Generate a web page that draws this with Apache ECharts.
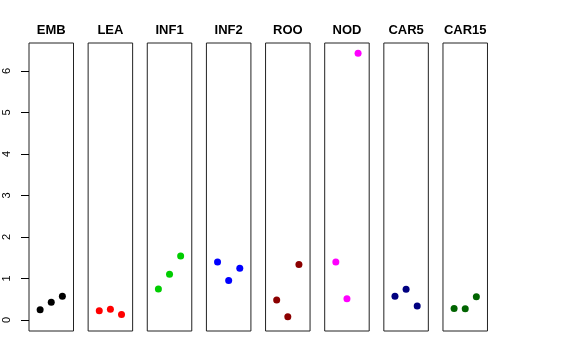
<!DOCTYPE html>
<html><head><meta charset="utf-8">
<script src="https://cdn.jsdelivr.net/npm/echarts@6/dist/echarts.min.js"></script>
<style>html,body{margin:0;padding:0;background:#fff}#c{width:576px;height:360px}</style>
</head><body><div id="c"></div>
<script>
var categories = ['EMB','LEA','INF1','INF2','ROO','NOD','CAR5','CAR15'];
var colors = ['#000000','#FF0000','#00CD00','#0000FF','#8B0000','#FF00FF','#000080','#006400'];
var EMB = [0.25, 0.43, 0.57];
var LEA = [0.22, 0.26, 0.13];
var INF1 = [0.75, 1.10, 1.54];
var INF2 = [1.40, 0.95, 1.25];
var ROO = [0.48, 0.08, 1.34];
var NOD = [1.40, 0.51, 6.43];
var CAR5 = [0.57, 0.74, 0.34];
var CAR15 = [0.28, 0.27, 0.56];
var yTicks = [0, 1, 2, 3, 4, 5, 6];
var seriesValues = [EMB, LEA, INF1, INF2, ROO, NOD, CAR5, CAR15];

(function () {
var grids = [], xAxes = [], yAxes = [], series = [], titles = [];
var left0 = 29, step = 59.14, w = 44.5, gTop = 43, h = 288;
for (var i = 0; i < categories.length; i++) {
  var l = left0 + i * step;
  grids.push({left: l, top: gTop, width: w, height: h, show: true, borderColor: '#222', borderWidth: 1, backgroundColor: 'transparent'});
  titles.push({text: categories[i], left: l + w / 2, top: 24, padding: 0, textAlign: 'center',
    textStyle: {fontFamily: 'Liberation Sans', fontWeight: 'bold', fontSize: 13, color: '#000'}});
  xAxes.push({gridIndex: i, type: 'value', min: 0, max: 4, show: false});
  yAxes.push({gridIndex: i, type: 'value', min: -0.265, max: 6.675, show: i === 0,
    splitLine: {show: false},
    axisLine: {show: false},
    axisTick: {show: true, length: 8, customValues: yTicks, lineStyle: {color: '#000'}},
    axisLabel: {show: true, customValues: yTicks, rotate: 90, margin: 17, fontFamily: 'Liberation Sans', fontSize: 11, color: '#000'}
  });
  series.push({type: 'scatter', xAxisIndex: i, yAxisIndex: i, symbolSize: 7,
    itemStyle: {color: colors[i], opacity: 1},
    data: seriesValues[i].map(function (v, j) { return [j + 1, v]; }),
    animation: false, silent: true});
}
var chart = echarts.init(document.getElementById('c'), null, {renderer: 'canvas'});
chart.setOption({animation: false, title: titles, grid: grids, xAxis: xAxes, yAxis: yAxes, series: series});
})();
</script></body></html>
